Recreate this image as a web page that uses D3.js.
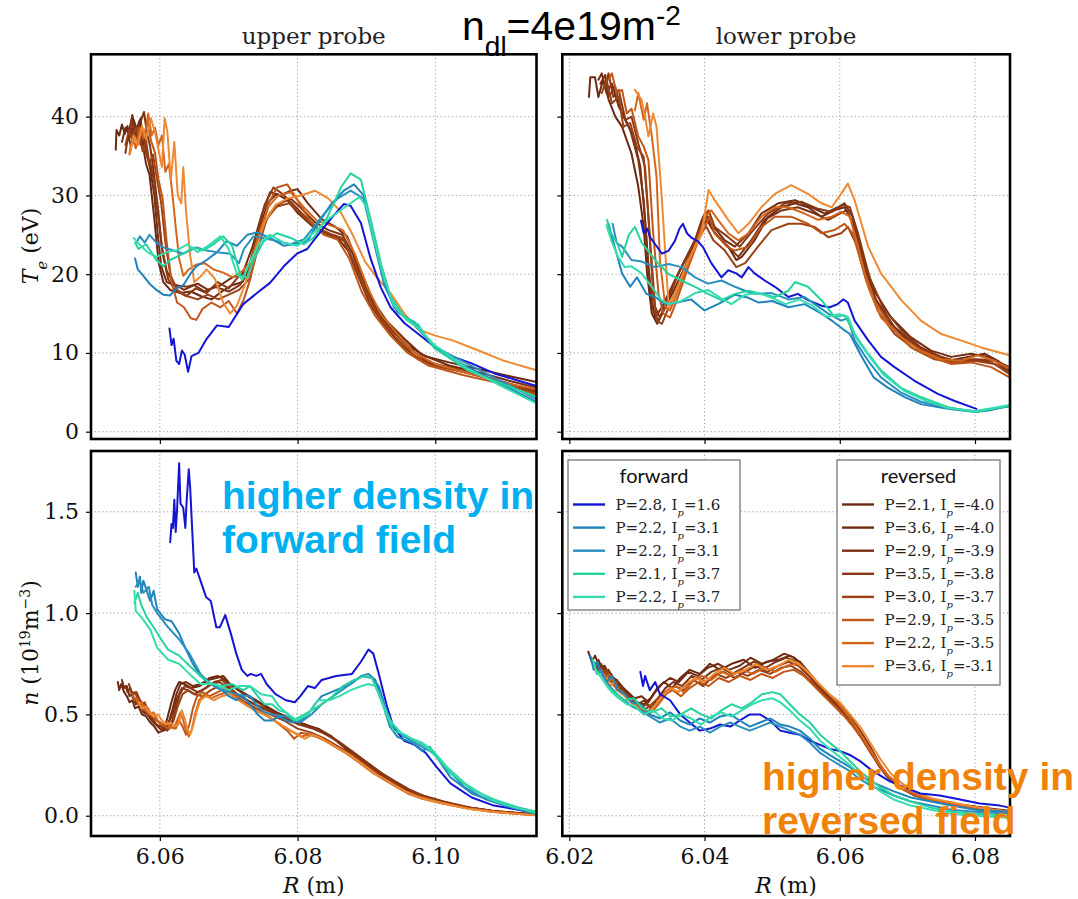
<!DOCTYPE html>
<html>
<head>
<meta charset="utf-8">
<script src="https://cdn.jsdelivr.net/npm/d3@7"></script>
<style>
  body { margin: 0; background: #fff; }
  svg { display: block; }
</style>
</head>
<body>
<svg id="fig" width="1078" height="899"></svg>
<script>
// ---- shot parameters (legend entries) ----
const forwardP  = [2.8, 2.2, 2.2, 2.1, 2.2];
const forwardIp = [1.6, 3.1, 3.1, 3.7, 3.7];
const reversedP  = [2.1, 3.6, 2.9, 3.5, 3.0, 2.9, 2.2, 3.6];
const reversedIp = [-4.0, -4.0, -3.9, -3.8, -3.7, -3.5, -3.5, -3.1];

const forwardColors  = ["#1414d4", "#1e84bb", "#2a8fbf", "#25d39e", "#34dcae"];
const reversedColors = ["#6b2912", "#722c10", "#7d3212", "#8a3814", "#9a4216", "#bf5719", "#d4651c", "#ee8a33"];

// ---- tick values ----
const rTicksUpper = [6.06, 6.08, 6.10];
const rTicksLower = [6.02, 6.04, 6.06, 6.08];
const teTicks = [0, 10, 20, 30, 40];
const nTicks  = [0.0, 0.5, 1.0, 1.5];
const probeTitles = ["upper probe", "lower probe"];

// ---- Te profiles, upper probe: [R (m), Te (eV)] ----
const teUpperFwd = [
  [[6.0614,13.1],[6.0617,11.0],[6.0620,11.8],[6.0624,9.0],[6.0628,8.6],[6.0632,10.3],[6.0636,9.8],[6.0641,7.6],[6.0646,9.6],[6.0656,10.0],[6.0668,11.8],[6.0683,13.5],[6.0700,13.3],[6.0721,16.2],[6.0741,17.6],[6.0760,18.9],[6.0780,21.0],[6.0799,22.6],[6.0814,23.2],[6.0828,24.8],[6.0848,27.0],[6.0867,28.9],[6.0877,28.7],[6.0892,26.5],[6.0906,22.0],[6.0921,18.3],[6.0935,15.8],[6.0955,13.8],[6.0974,12.5],[6.0999,10.8],[6.1023,9.6],[6.1052,8.7],[6.1086,7.4],[6.1120,6.5],[6.1147,5.8]],
  [[6.0564,22.0],[6.0568,20.6],[6.0576,19.8],[6.0585,18.8],[6.0595,18.0],[6.0605,17.4],[6.0615,17.3],[6.0624,18.2],[6.0634,18.6],[6.0644,20.0],[6.0653,21.0],[6.0668,21.8],[6.0683,22.8],[6.0697,24.2],[6.0712,23.6],[6.0727,25.0],[6.0741,25.3],[6.0760,24.6],[6.0780,23.6],[6.0799,23.9],[6.0814,24.2],[6.0828,26.2],[6.0848,28.8],[6.0867,30.6],[6.0882,31.4],[6.0896,30.0],[6.0911,24.8],[6.0926,19.0],[6.0940,15.8],[6.0955,14.6],[6.0970,13.9],[6.0999,10.6],[6.1047,8.2],[6.1096,6.0],[6.1147,3.8]],
  [[6.0566,24.0],[6.0571,24.8],[6.0578,24.0],[6.0585,25.0],[6.0595,24.0],[6.0605,23.4],[6.0620,23.0],[6.0634,22.6],[6.0653,23.4],[6.0668,23.0],[6.0683,22.8],[6.0702,22.6],[6.0715,21.4],[6.0722,23.2],[6.0736,24.8],[6.0750,24.6],[6.0770,24.2],[6.0790,23.8],[6.0809,24.4],[6.0838,27.6],[6.0858,29.6],[6.0877,30.6],[6.0896,29.6],[6.0911,24.0],[6.0926,18.6],[6.0945,15.2],[6.0965,14.0],[6.0980,12.6],[6.0999,10.8],[6.1047,8.6],[6.1096,6.4],[6.1147,4.1]],
  [[6.0564,24.0],[6.0569,23.2],[6.0580,23.8],[6.0595,21.8],[6.0605,21.0],[6.0615,21.8],[6.0634,22.6],[6.0649,23.4],[6.0663,23.0],[6.0678,23.8],[6.0692,24.8],[6.0705,23.6],[6.0717,19.8],[6.0727,19.6],[6.0736,21.8],[6.0751,24.2],[6.0770,25.2],[6.0790,24.6],[6.0809,23.8],[6.0823,24.6],[6.0843,27.2],[6.0863,31.0],[6.0877,32.8],[6.0892,32.0],[6.0906,27.0],[6.0921,21.4],[6.0935,17.2],[6.0955,14.6],[6.0975,13.6],[6.0999,10.6],[6.1047,7.8],[6.1096,6.1],[6.1147,4.4]],
  [[6.0562,24.6],[6.0570,23.8],[6.0582,22.8],[6.0595,22.2],[6.0610,22.8],[6.0624,23.0],[6.0640,23.8],[6.0655,22.8],[6.0670,23.6],[6.0688,24.8],[6.0700,23.2],[6.0712,20.0],[6.0720,19.3],[6.0730,21.4],[6.0745,24.0],[6.0760,25.0],[6.0780,24.0],[6.0800,23.6],[6.0820,25.0],[6.0845,27.0],[6.0870,28.6],[6.0890,29.8],[6.0900,28.6],[6.0912,24.0],[6.0926,19.4],[6.0940,16.0],[6.0958,14.2],[6.0975,13.2],[6.0999,11.0],[6.1047,8.0],[6.1096,5.8],[6.1147,3.6]]
];
const teUpperRev = [
  [[6.0536,35.8],[6.0537,38.3],[6.0541,37.6],[6.0545,39.0],[6.0549,37.8],[6.0553,38.8],[6.0557,37.4],[6.0562,39.6],[6.0567,38.2],[6.0572,39.8],[6.0576,36.0],[6.0580,34.0],[6.0585,32.6],[6.0592,27.0],[6.0598,21.6],[6.0605,19.0],[6.0615,18.0],[6.0630,17.6],[6.0645,17.8],[6.0660,17.2],[6.0675,16.8],[6.0690,17.8],[6.0705,18.6],[6.0720,19.0],[6.0732,21.0],[6.0745,26.0],[6.0758,29.2],[6.0770,30.2],[6.0785,29.4],[6.0800,27.8],[6.0820,26.2],[6.0840,25.2],[6.0858,24.6],[6.0875,22.8],[6.0893,19.0],[6.0913,15.4],[6.0935,13.2],[6.0960,11.0],[6.0985,9.6],[6.1020,8.8],[6.1070,7.8],[6.1110,7.0],[6.1147,6.3]],
  [[6.0545,36.8],[6.0550,38.6],[6.0555,37.8],[6.0560,40.2],[6.0565,38.0],[6.0570,39.4],[6.0575,37.0],[6.0580,35.6],[6.0586,33.4],[6.0592,30.0],[6.0597,25.0],[6.0602,21.0],[6.0610,19.0],[6.0622,18.6],[6.0640,18.4],[6.0655,18.8],[6.0670,18.0],[6.0688,18.6],[6.0705,19.6],[6.0720,20.0],[6.0735,23.6],[6.0748,27.6],[6.0760,30.4],[6.0775,30.0],[6.0790,30.6],[6.0800,30.8],[6.0815,29.0],[6.0835,27.0],[6.0855,26.0],[6.0872,24.8],[6.0890,20.8],[6.0910,16.6],[6.0930,14.0],[6.0955,11.8],[6.0980,9.8],[6.1020,8.4],[6.1070,7.4],[6.1110,6.4],[6.1147,5.6]],
  [[6.0550,35.4],[6.0554,37.6],[6.0558,36.2],[6.0563,38.8],[6.0568,37.0],[6.0573,39.6],[6.0577,40.6],[6.0581,38.0],[6.0586,36.2],[6.0591,33.0],[6.0597,28.6],[6.0603,23.4],[6.0610,20.4],[6.0620,18.8],[6.0635,18.0],[6.0650,18.6],[6.0665,17.8],[6.0680,18.4],[6.0700,17.8],[6.0716,18.6],[6.0730,20.6],[6.0745,25.0],[6.0760,27.8],[6.0775,29.0],[6.0790,29.6],[6.0805,28.4],[6.0825,26.6],[6.0845,25.6],[6.0865,25.0],[6.0880,22.6],[6.0898,18.6],[6.0918,15.0],[6.0940,12.6],[6.0965,10.4],[6.0990,8.8],[6.1030,8.0],[6.1080,6.8],[6.1120,5.8],[6.1147,5.2]],
  [[6.0555,38.0],[6.0559,39.6],[6.0563,37.2],[6.0567,38.8],[6.0572,36.4],[6.0576,38.2],[6.0581,35.0],[6.0586,34.2],[6.0592,31.6],[6.0598,27.0],[6.0604,22.6],[6.0612,19.4],[6.0622,18.0],[6.0638,17.2],[6.0652,18.2],[6.0668,17.6],[6.0684,19.0],[6.0700,18.2],[6.0715,19.8],[6.0728,20.4],[6.0740,24.6],[6.0752,28.8],[6.0765,31.0],[6.0778,30.2],[6.0792,29.0],[6.0810,27.4],[6.0830,25.8],[6.0850,25.0],[6.0868,24.2],[6.0885,20.4],[6.0905,16.2],[6.0925,13.6],[6.0950,11.0],[6.0975,9.2],[6.1010,8.2],[6.1060,7.2],[6.1110,6.0],[6.1147,5.0]],
  [[6.0550,36.4],[6.0555,38.2],[6.0560,37.0],[6.0565,38.6],[6.0570,37.8],[6.0575,35.6],[6.0580,37.0],[6.0585,34.0],[6.0590,35.2],[6.0596,32.0],[6.0602,29.0],[6.0608,24.0],[6.0615,20.0],[6.0625,18.0],[6.0640,17.2],[6.0655,16.8],[6.0670,17.4],[6.0685,16.8],[6.0700,17.4],[6.0715,18.0],[6.0730,19.4],[6.0742,23.0],[6.0755,27.0],[6.0770,28.6],[6.0788,29.0],[6.0805,27.6],[6.0825,26.0],[6.0845,25.2],[6.0865,24.6],[6.0882,21.6],[6.0900,17.6],[6.0920,14.4],[6.0942,12.0],[6.0968,9.8],[6.0995,8.4],[6.1040,7.6],[6.1090,6.4],[6.1147,4.8]],
  [[6.0556,35.4],[6.0560,37.4],[6.0565,36.0],[6.0570,38.6],[6.0576,37.2],[6.0582,39.4],[6.0587,37.0],[6.0593,35.4],[6.0598,32.0],[6.0604,29.6],[6.0610,24.0],[6.0617,19.0],[6.0625,16.4],[6.0635,15.8],[6.0645,14.4],[6.0653,14.2],[6.0662,15.6],[6.0675,16.4],[6.0688,15.8],[6.0700,16.6],[6.0712,15.0],[6.0722,16.8],[6.0732,19.6],[6.0745,24.6],[6.0758,29.0],[6.0770,31.0],[6.0785,31.4],[6.0800,29.4],[6.0818,26.8],[6.0838,25.0],[6.0858,24.4],[6.0875,22.0],[6.0893,17.8],[6.0912,14.8],[6.0935,12.2],[6.0960,10.0],[6.0990,8.4],[6.1040,7.2],[6.1090,6.2],[6.1147,4.6]],
  [[6.0556,35.2],[6.0560,37.0],[6.0566,36.2],[6.0572,38.4],[6.0578,37.4],[6.0583,40.4],[6.0588,37.6],[6.0593,38.6],[6.0598,36.4],[6.0603,37.6],[6.0608,33.0],[6.0613,34.0],[6.0618,30.4],[6.0623,26.0],[6.0628,22.0],[6.0634,19.8],[6.0642,20.6],[6.0652,21.2],[6.0665,21.4],[6.0678,20.6],[6.0692,20.2],[6.0706,19.6],[6.0720,20.4],[6.0732,21.6],[6.0745,25.4],[6.0758,28.6],[6.0772,30.0],[6.0790,30.4],[6.0808,28.6],[6.0828,26.8],[6.0848,26.2],[6.0866,25.6],[6.0884,22.4],[6.0902,18.2],[6.0922,14.8],[6.0945,12.4],[6.0970,10.0],[6.1000,8.6],[6.1050,7.4],[6.1100,6.2],[6.1147,5.4]],
  [[6.0557,35.4],[6.0562,37.6],[6.0568,36.4],[6.0574,38.8],[6.0580,37.2],[6.0587,39.8],[6.0593,38.0],[6.0598,35.8],[6.0603,33.6],[6.0607,39.8],[6.0611,38.0],[6.0616,32.0],[6.0621,36.8],[6.0626,30.0],[6.0631,29.0],[6.0634,33.6],[6.0638,28.0],[6.0644,22.4],[6.0650,19.0],[6.0658,19.6],[6.0668,20.6],[6.0680,19.4],[6.0692,16.4],[6.0702,15.0],[6.0712,16.0],[6.0724,18.8],[6.0738,22.6],[6.0752,26.6],[6.0768,28.8],[6.0785,29.6],[6.0805,30.0],[6.0825,30.6],[6.0845,29.6],[6.0862,28.0],[6.0880,25.0],[6.0898,21.6],[6.0915,19.6],[6.0935,17.6],[6.0955,15.0],[6.0975,13.0],[6.1000,12.2],[6.1025,11.6],[6.1060,10.4],[6.1100,9.0],[6.1147,7.8]]
];

// ---- Te profiles, lower probe ----
const teLowerFwd = [
  [[6.0306,26.8],[6.0310,25.2],[6.0315,25.8],[6.0320,24.6],[6.0327,23.8],[6.0337,22.6],[6.0347,23.0],[6.0356,24.2],[6.0363,25.8],[6.0368,26.4],[6.0374,25.2],[6.0381,24.6],[6.0390,24.2],[6.0398,23.4],[6.0410,21.4],[6.0425,19.6],[6.0435,20.5],[6.0447,20.1],[6.0455,19.6],[6.0465,20.9],[6.0474,20.1],[6.0489,19.2],[6.0504,18.4],[6.0524,17.1],[6.0538,17.5],[6.0553,16.7],[6.0573,16.0],[6.0585,15.8],[6.0597,16.2],[6.0605,16.8],[6.0612,16.4],[6.0622,14.1],[6.0642,11.6],[6.0661,9.5],[6.0681,8.2],[6.0710,6.5],[6.0745,4.8],[6.0770,3.9],[6.0802,2.9]],
  [[6.0258,26.4],[6.0262,25.0],[6.0270,22.6],[6.0278,20.1],[6.0290,18.4],[6.0300,19.6],[6.0314,17.5],[6.0327,17.1],[6.0342,16.2],[6.0360,16.4],[6.0380,16.8],[6.0400,15.4],[6.0420,16.2],[6.0445,17.4],[6.0465,17.0],[6.0480,16.4],[6.0500,16.6],[6.0524,15.8],[6.0548,16.2],[6.0573,15.0],[6.0590,14.0],[6.0605,13.0],[6.0615,12.4],[6.0630,9.9],[6.0650,6.9],[6.0671,5.6],[6.0696,4.4],[6.0720,3.5],[6.0760,2.9],[6.0800,2.5],[6.0820,2.7],[6.0851,3.3]],
  [[6.0264,26.4],[6.0270,24.0],[6.0278,23.5],[6.0292,21.8],[6.0307,21.6],[6.0327,20.9],[6.0347,21.3],[6.0366,20.9],[6.0386,19.6],[6.0405,18.8],[6.0425,19.2],[6.0445,18.4],[6.0460,17.9],[6.0474,17.5],[6.0499,17.6],[6.0524,16.8],[6.0548,17.1],[6.0563,16.2],[6.0583,15.0],[6.0602,14.1],[6.0612,14.4],[6.0622,11.6],[6.0642,9.0],[6.0661,6.9],[6.0690,5.0],[6.0720,3.8],[6.0760,3.0],[6.0800,2.6],[6.0851,3.2]],
  [[6.0256,26.9],[6.0259,25.6],[6.0271,23.9],[6.0278,22.2],[6.0288,25.0],[6.0297,26.0],[6.0307,24.0],[6.0327,21.8],[6.0347,20.0],[6.0366,19.2],[6.0386,18.4],[6.0405,17.5],[6.0425,16.7],[6.0445,17.5],[6.0465,17.9],[6.0484,17.5],[6.0504,17.1],[6.0524,17.9],[6.0534,19.0],[6.0553,18.4],[6.0573,16.7],[6.0592,14.6],[6.0607,14.8],[6.0622,12.4],[6.0642,9.9],[6.0661,7.8],[6.0690,5.6],[6.0720,4.4],[6.0760,3.1],[6.0800,2.5],[6.0851,3.3]],
  [[6.0255,26.2],[6.0262,24.3],[6.0272,22.2],[6.0282,20.9],[6.0292,21.0],[6.0307,20.1],[6.0322,18.4],[6.0336,16.7],[6.0347,16.2],[6.0366,16.6],[6.0386,17.6],[6.0405,18.0],[6.0425,16.9],[6.0440,16.2],[6.0460,17.4],[6.0480,17.6],[6.0500,17.0],[6.0520,16.2],[6.0540,16.8],[6.0560,16.0],[6.0580,14.6],[6.0600,14.9],[6.0612,14.6],[6.0625,11.8],[6.0645,9.4],[6.0665,7.2],[6.0695,5.2],[6.0725,4.0],[6.0760,3.0],[6.0800,2.6],[6.0851,3.4]]
];
const teLowerRev = [
  [[6.0229,42.5],[6.0231,45.0],[6.0238,45.0],[6.0243,42.5],[6.0250,44.7],[6.0258,42.2],[6.0268,40.0],[6.0278,38.7],[6.0292,35.3],[6.0302,31.1],[6.0310,26.0],[6.0315,20.1],[6.0322,15.0],[6.0330,13.7],[6.0337,15.0],[6.0352,17.5],[6.0371,20.9],[6.0386,24.3],[6.0396,26.9],[6.0405,27.3],[6.0415,25.2],[6.0435,23.5],[6.0447,21.8],[6.0455,22.2],[6.0474,24.3],[6.0494,27.3],[6.0514,28.5],[6.0534,29.0],[6.0553,28.5],[6.0573,27.3],[6.0592,28.1],[6.0607,28.5],[6.0617,26.9],[6.0632,21.8],[6.0647,17.5],[6.0671,14.1],[6.0700,11.6],[6.0730,9.9],[6.0760,9.0],[6.0790,9.5],[6.0814,9.9],[6.0834,9.0],[6.0851,7.8]],
  [[6.0243,44.7],[6.0248,45.5],[6.0255,43.0],[6.0263,44.2],[6.0273,41.3],[6.0283,39.6],[6.0295,37.5],[6.0305,33.6],[6.0312,26.9],[6.0320,17.5],[6.0327,14.5],[6.0337,15.8],[6.0356,19.2],[6.0376,22.6],[6.0391,25.2],[6.0401,27.9],[6.0410,26.4],[6.0430,24.3],[6.0445,23.5],[6.0465,25.2],[6.0484,27.7],[6.0509,29.0],[6.0534,29.4],[6.0558,28.5],[6.0578,27.7],[6.0597,28.5],[6.0607,29.0],[6.0619,27.3],[6.0634,22.2],[6.0651,17.9],[6.0676,14.5],[6.0705,12.0],[6.0735,10.3],[6.0765,9.5],[6.0794,9.9],[6.0819,9.5],[6.0851,8.2]],
  [[6.0246,44.2],[6.0253,45.3],[6.0258,42.5],[6.0268,43.8],[6.0278,40.4],[6.0290,38.3],[6.0302,34.5],[6.0310,29.4],[6.0317,20.9],[6.0324,15.4],[6.0332,14.1],[6.0342,15.8],[6.0361,20.1],[6.0381,23.5],[6.0396,26.0],[6.0403,26.9],[6.0413,25.5],[6.0430,23.9],[6.0450,22.2],[6.0469,24.3],[6.0489,26.9],[6.0514,28.1],[6.0538,28.5],[6.0563,27.7],[6.0583,26.9],[6.0600,27.7],[6.0610,28.1],[6.0622,26.0],[6.0637,20.9],[6.0654,16.7],[6.0681,13.3],[6.0710,11.2],[6.0740,9.7],[6.0770,9.0],[6.0799,9.2],[6.0824,8.8],[6.0851,7.6]],
  [[6.0253,43.8],[6.0258,45.5],[6.0265,42.5],[6.0273,43.4],[6.0283,39.6],[6.0292,40.0],[6.0302,36.6],[6.0312,33.6],[6.0320,23.5],[6.0327,15.8],[6.0334,14.5],[6.0344,16.7],[6.0366,20.9],[6.0386,24.3],[6.0398,27.3],[6.0406,28.1],[6.0415,26.0],[6.0435,24.7],[6.0452,23.5],[6.0472,25.6],[6.0494,27.7],[6.0519,29.0],[6.0543,29.2],[6.0568,28.3],[6.0588,27.9],[6.0605,28.8],[6.0615,28.5],[6.0627,25.2],[6.0644,19.6],[6.0664,15.8],[6.0691,12.9],[6.0720,10.7],[6.0750,9.5],[6.0780,8.8],[6.0804,9.2],[6.0829,9.0],[6.0851,7.6]],
  [[6.0248,43.0],[6.0255,44.7],[6.0263,41.7],[6.0273,42.5],[6.0280,38.7],[6.0290,39.2],[6.0300,36.2],[6.0310,34.9],[6.0317,27.3],[6.0324,17.5],[6.0330,14.1],[6.0337,13.7],[6.0347,15.8],[6.0366,19.6],[6.0383,23.0],[6.0396,25.5],[6.0403,26.0],[6.0413,24.3],[6.0430,23.0],[6.0447,20.9],[6.0460,21.4],[6.0479,23.5],[6.0499,25.6],[6.0524,26.4],[6.0543,26.4],[6.0563,26.0],[6.0583,24.7],[6.0602,25.2],[6.0612,26.0],[6.0624,23.9],[6.0639,19.2],[6.0656,15.4],[6.0681,12.4],[6.0710,10.5],[6.0740,9.2],[6.0770,8.8],[6.0799,9.0],[6.0829,8.6],[6.0851,7.3]],
  [[6.0258,44.7],[6.0263,45.5],[6.0270,43.0],[6.0278,43.4],[6.0285,40.4],[6.0292,41.0],[6.0302,37.5],[6.0310,36.2],[6.0317,34.5],[6.0324,25.2],[6.0332,17.5],[6.0339,15.0],[6.0349,14.5],[6.0359,16.7],[6.0376,20.9],[6.0391,24.3],[6.0401,26.0],[6.0407,27.3],[6.0415,25.2],[6.0433,23.5],[6.0445,23.0],[6.0465,23.5],[6.0484,26.0],[6.0504,27.3],[6.0528,27.3],[6.0553,26.4],[6.0573,25.2],[6.0592,25.6],[6.0607,26.4],[6.0619,25.2],[6.0634,20.9],[6.0651,16.7],[6.0676,13.3],[6.0705,10.7],[6.0735,9.5],[6.0765,8.6],[6.0794,8.8],[6.0824,8.2],[6.0851,6.9]],
  [[6.0297,40.8],[6.0302,43.0],[6.0310,39.6],[6.0315,41.7],[6.0322,37.5],[6.0329,32.4],[6.0334,21.8],[6.0342,15.8],[6.0349,15.4],[6.0359,17.5],[6.0376,21.3],[6.0391,24.7],[6.0401,27.3],[6.0410,28.1],[6.0420,26.9],[6.0435,25.2],[6.0450,24.3],[6.0465,25.2],[6.0484,27.3],[6.0504,28.5],[6.0524,28.5],[6.0548,27.7],[6.0568,26.9],[6.0588,27.3],[6.0602,27.9],[6.0615,27.3],[6.0627,23.5],[6.0642,18.4],[6.0661,14.5],[6.0691,12.0],[6.0720,10.3],[6.0750,9.2],[6.0780,9.0],[6.0804,9.7],[6.0829,9.0],[6.0851,8.0]],
  [[6.0297,43.4],[6.0307,42.1],[6.0312,40.0],[6.0317,37.5],[6.0324,40.4],[6.0329,38.7],[6.0337,29.4],[6.0347,15.8],[6.0356,17.5],[6.0376,21.8],[6.0396,25.2],[6.0406,30.7],[6.0415,29.4],[6.0435,26.9],[6.0450,25.2],[6.0465,26.4],[6.0484,28.5],[6.0504,30.2],[6.0528,31.3],[6.0553,30.2],[6.0573,29.0],[6.0588,28.5],[6.0602,30.2],[6.0612,31.5],[6.0622,29.4],[6.0642,23.5],[6.0661,20.1],[6.0691,16.7],[6.0720,14.1],[6.0750,12.4],[6.0779,11.6],[6.0809,10.7],[6.0851,9.7]]
];

// ---- density profiles, upper probe: [R (m), n (1e19 m^-3)] ----
const nUpperFwd = [
  [[6.0615,1.35],[6.0617,1.44],[6.0619,1.42],[6.0621,1.56],[6.0623,1.40],[6.0625,1.51],[6.0628,1.74],[6.0630,1.54],[6.0634,1.52],[6.0637,1.42],[6.0639,1.56],[6.0642,1.71],[6.0644,1.62],[6.0647,1.41],[6.0650,1.20],[6.0653,1.22],[6.0659,1.16],[6.0667,1.08],[6.0674,1.06],[6.0682,0.93],[6.0687,0.93],[6.0695,0.99],[6.0703,0.90],[6.0711,0.80],[6.0719,0.72],[6.0727,0.69],[6.0732,0.70],[6.0740,0.69],[6.0747,0.70],[6.0755,0.65],[6.0768,0.60],[6.0783,0.57],[6.0796,0.56],[6.0804,0.59],[6.0815,0.64],[6.0825,0.63],[6.0835,0.67],[6.0856,0.69],[6.0879,0.70],[6.0892,0.76],[6.0903,0.82],[6.0910,0.80],[6.0918,0.70],[6.0929,0.55],[6.0939,0.44],[6.0955,0.37],[6.0970,0.35],[6.0986,0.31],[6.1002,0.24],[6.1022,0.16],[6.1053,0.09],[6.1085,0.05],[6.1121,0.03],[6.1147,0.01]],
  [[6.0565,1.20],[6.0568,1.13],[6.0571,1.18],[6.0573,1.10],[6.0576,1.16],[6.0581,1.11],[6.0586,1.06],[6.0591,1.11],[6.0596,1.02],[6.0607,0.97],[6.0617,0.96],[6.0628,0.90],[6.0638,0.82],[6.0648,0.75],[6.0659,0.69],[6.0669,0.66],[6.0679,0.64],[6.0690,0.62],[6.0700,0.59],[6.0711,0.57],[6.0721,0.59],[6.0731,0.55],[6.0742,0.50],[6.0752,0.47],[6.0763,0.47],[6.0773,0.49],[6.0783,0.47],[6.0794,0.46],[6.0804,0.47],[6.0815,0.50],[6.0825,0.55],[6.0835,0.59],[6.0856,0.62],[6.0877,0.65],[6.0893,0.69],[6.0903,0.70],[6.0913,0.67],[6.0924,0.55],[6.0934,0.44],[6.0945,0.39],[6.0966,0.36],[6.0981,0.32],[6.0992,0.34],[6.1002,0.29],[6.1022,0.19],[6.1053,0.11],[6.1085,0.07],[6.1121,0.04],[6.1147,0.02]],
  [[6.0565,1.13],[6.0571,1.16],[6.0576,1.10],[6.0584,1.13],[6.0589,1.04],[6.0596,1.00],[6.0612,0.93],[6.0628,0.87],[6.0643,0.80],[6.0659,0.70],[6.0674,0.65],[6.0690,0.62],[6.0711,0.60],[6.0731,0.59],[6.0742,0.54],[6.0752,0.51],[6.0763,0.50],[6.0783,0.49],[6.0804,0.46],[6.0820,0.50],[6.0835,0.55],[6.0856,0.60],[6.0877,0.65],[6.0893,0.69],[6.0908,0.68],[6.0918,0.64],[6.0929,0.52],[6.0939,0.44],[6.0955,0.39],[6.0971,0.36],[6.0986,0.33],[6.0997,0.31],[6.1017,0.23],[6.1043,0.14],[6.1074,0.08],[6.1111,0.04],[6.1147,0.01]],
  [[6.0563,1.05],[6.0568,1.10],[6.0573,1.04],[6.0581,0.98],[6.0591,0.93],[6.0602,0.87],[6.0612,0.82],[6.0628,0.79],[6.0643,0.74],[6.0659,0.69],[6.0674,0.65],[6.0690,0.64],[6.0705,0.65],[6.0721,0.62],[6.0731,0.64],[6.0742,0.59],[6.0752,0.55],[6.0763,0.55],[6.0773,0.52],[6.0783,0.51],[6.0794,0.47],[6.0810,0.50],[6.0825,0.53],[6.0835,0.55],[6.0851,0.59],[6.0866,0.64],[6.0882,0.67],[6.0898,0.69],[6.0908,0.68],[6.0918,0.60],[6.0929,0.50],[6.0939,0.42],[6.0955,0.40],[6.0971,0.37],[6.0986,0.34],[6.1002,0.29],[6.1022,0.21],[6.1053,0.13],[6.1085,0.08],[6.1121,0.04],[6.1147,0.01]],
  [[6.0563,1.11],[6.0565,1.01],[6.0573,0.98],[6.0586,0.92],[6.0596,0.83],[6.0612,0.77],[6.0628,0.75],[6.0643,0.70],[6.0659,0.65],[6.0679,0.65],[6.0700,0.62],[6.0716,0.64],[6.0731,0.64],[6.0747,0.60],[6.0763,0.59],[6.0773,0.54],[6.0783,0.51],[6.0799,0.47],[6.0815,0.50],[6.0830,0.57],[6.0846,0.57],[6.0861,0.59],[6.0877,0.62],[6.0893,0.64],[6.0903,0.65],[6.0913,0.64],[6.0924,0.55],[6.0934,0.47],[6.0950,0.41],[6.0966,0.38],[6.0981,0.36],[6.0997,0.32],[6.1017,0.24],[6.1043,0.16],[6.1080,0.08],[6.1116,0.04],[6.1147,0.02]]
];
const nUpperRev = [
  [[6.0539,0.66],[6.0541,0.62],[6.0544,0.65],[6.0548,0.61],[6.0552,0.59],[6.0556,0.56],[6.0560,0.57],[6.0564,0.53],[6.0569,0.54],[6.0574,0.50],[6.0580,0.49],[6.0586,0.46],[6.0592,0.44],[6.0598,0.41],[6.0604,0.42],[6.0610,0.47],[6.0616,0.55],[6.0622,0.62],[6.0628,0.66],[6.0636,0.65],[6.0646,0.63],[6.0658,0.64],[6.0670,0.67],[6.0682,0.68],[6.0692,0.69],[6.0702,0.65],[6.0715,0.62],[6.0730,0.59],[6.0750,0.55],[6.0770,0.51],[6.0790,0.48],[6.0810,0.45],[6.0830,0.43],[6.0850,0.39],[6.0870,0.33],[6.0890,0.28],[6.0910,0.23],[6.0930,0.18],[6.0950,0.14],[6.0970,0.11],[6.1000,0.08],[6.1040,0.045],[6.1080,0.025],[6.1120,0.012],[6.1147,0.005]],
  [[6.0545,0.67],[6.0548,0.63],[6.0552,0.64],[6.0556,0.59],[6.0560,0.60],[6.0565,0.55],[6.0570,0.56],[6.0576,0.51],[6.0582,0.50],[6.0588,0.47],[6.0594,0.45],[6.0600,0.43],[6.0606,0.42],[6.0612,0.45],[6.0618,0.52],[6.0624,0.60],[6.0630,0.65],[6.0638,0.66],[6.0648,0.64],[6.0660,0.65],[6.0672,0.68],[6.0684,0.69],[6.0694,0.67],[6.0705,0.64],[6.0718,0.61],[6.0732,0.58],[6.0752,0.54],[6.0772,0.50],[6.0792,0.47],[6.0812,0.45],[6.0832,0.42],[6.0852,0.38],[6.0872,0.33],[6.0892,0.28],[6.0912,0.23],[6.0932,0.18],[6.0952,0.14],[6.0972,0.11],[6.1002,0.075],[6.1042,0.045],[6.1082,0.025],[6.1147,0.006]],
  [[6.0550,0.64],[6.0553,0.61],[6.0557,0.63],[6.0561,0.58],[6.0566,0.56],[6.0571,0.57],[6.0577,0.52],[6.0583,0.50],[6.0589,0.48],[6.0595,0.45],[6.0601,0.44],[6.0607,0.43],[6.0613,0.46],[6.0619,0.51],[6.0625,0.58],[6.0632,0.63],[6.0640,0.62],[6.0650,0.60],[6.0662,0.62],[6.0674,0.65],[6.0686,0.66],[6.0696,0.64],[6.0708,0.61],[6.0722,0.58],[6.0738,0.55],[6.0758,0.52],[6.0778,0.49],[6.0798,0.46],[6.0818,0.44],[6.0838,0.41],[6.0858,0.37],[6.0878,0.32],[6.0898,0.27],[6.0918,0.22],[6.0938,0.17],[6.0958,0.13],[6.0978,0.10],[6.1008,0.07],[6.1048,0.04],[6.1088,0.02],[6.1147,0.005]],
  [[6.0555,0.65],[6.0558,0.62],[6.0562,0.60],[6.0566,0.61],[6.0571,0.57],[6.0576,0.55],[6.0581,0.53],[6.0587,0.50],[6.0593,0.48],[6.0599,0.46],[6.0605,0.43],[6.0611,0.42],[6.0617,0.46],[6.0623,0.53],[6.0629,0.60],[6.0636,0.64],[6.0644,0.63],[6.0655,0.61],[6.0667,0.63],[6.0679,0.66],[6.0690,0.67],[6.0700,0.64],[6.0712,0.60],[6.0726,0.57],[6.0742,0.54],[6.0762,0.51],[6.0782,0.48],[6.0802,0.45],[6.0822,0.43],[6.0842,0.40],[6.0862,0.36],[6.0882,0.31],[6.0902,0.26],[6.0922,0.21],[6.0942,0.17],[6.0962,0.13],[6.0982,0.10],[6.1012,0.07],[6.1052,0.04],[6.1092,0.02],[6.1147,0.004]],
  [[6.0557,0.62],[6.0560,0.60],[6.0564,0.61],[6.0568,0.57],[6.0573,0.55],[6.0578,0.56],[6.0584,0.51],[6.0590,0.49],[6.0596,0.47],[6.0602,0.45],[6.0608,0.44],[6.0614,0.43],[6.0620,0.47],[6.0626,0.54],[6.0633,0.60],[6.0641,0.62],[6.0650,0.60],[6.0662,0.59],[6.0674,0.62],[6.0686,0.64],[6.0698,0.62],[6.0710,0.59],[6.0724,0.56],[6.0740,0.53],[6.0760,0.50],[6.0780,0.47],[6.0800,0.43],[6.0820,0.41],[6.0840,0.38],[6.0860,0.34],[6.0880,0.30],[6.0900,0.25],[6.0920,0.20],[6.0940,0.16],[6.0960,0.12],[6.0980,0.095],[6.1010,0.065],[6.1050,0.04],[6.1090,0.02],[6.1147,0.004]],
  [[6.0560,0.60],[6.0563,0.57],[6.0567,0.58],[6.0572,0.54],[6.0577,0.52],[6.0583,0.53],[6.0589,0.49],[6.0595,0.47],[6.0601,0.46],[6.0607,0.44],[6.0613,0.43],[6.0618,0.45],[6.0623,0.43],[6.0628,0.47],[6.0633,0.44],[6.0638,0.40],[6.0643,0.45],[6.0648,0.53],[6.0654,0.59],[6.0662,0.61],[6.0672,0.59],[6.0684,0.61],[6.0696,0.63],[6.0708,0.60],[6.0720,0.56],[6.0735,0.53],[6.0752,0.50],[6.0770,0.46],[6.0785,0.42],[6.0795,0.38],[6.0805,0.41],[6.0820,0.40],[6.0840,0.37],[6.0860,0.33],[6.0880,0.29],[6.0900,0.24],[6.0920,0.19],[6.0940,0.15],[6.0960,0.11],[6.0980,0.085],[6.1010,0.06],[6.1050,0.035],[6.1090,0.018],[6.1147,0.003]],
  [[6.0565,0.58],[6.0569,0.55],[6.0574,0.56],[6.0579,0.52],[6.0585,0.50],[6.0591,0.51],[6.0597,0.47],[6.0603,0.45],[6.0609,0.46],[6.0615,0.44],[6.0620,0.43],[6.0625,0.47],[6.0630,0.51],[6.0634,0.47],[6.0638,0.42],[6.0642,0.39],[6.0646,0.42],[6.0651,0.50],[6.0657,0.57],[6.0665,0.60],[6.0675,0.58],[6.0688,0.60],[6.0700,0.61],[6.0712,0.58],[6.0725,0.55],[6.0740,0.52],[6.0758,0.49],[6.0775,0.45],[6.0790,0.42],[6.0805,0.39],[6.0815,0.40],[6.0830,0.39],[6.0850,0.35],[6.0870,0.31],[6.0890,0.26],[6.0910,0.21],[6.0930,0.17],[6.0950,0.13],[6.0970,0.10],[6.1000,0.07],[6.1040,0.04],[6.1080,0.02],[6.1147,0.002]],
  [[6.0570,0.56],[6.0574,0.53],[6.0579,0.54],[6.0585,0.51],[6.0591,0.49],[6.0597,0.50],[6.0603,0.47],[6.0609,0.45],[6.0615,0.46],[6.0621,0.44],[6.0627,0.45],[6.0632,0.52],[6.0636,0.48],[6.0640,0.43],[6.0644,0.40],[6.0648,0.44],[6.0653,0.51],[6.0659,0.57],[6.0667,0.59],[6.0678,0.57],[6.0690,0.59],[6.0702,0.60],[6.0714,0.57],[6.0728,0.54],[6.0744,0.51],[6.0762,0.48],[6.0780,0.44],[6.0795,0.41],[6.0810,0.38],[6.0822,0.40],[6.0836,0.38],[6.0856,0.34],[6.0876,0.30],[6.0896,0.25],[6.0916,0.20],[6.0936,0.16],[6.0956,0.12],[6.0976,0.09],[6.1006,0.065],[6.1046,0.035],[6.1086,0.018],[6.1147,0.002]]
];

// ---- density profiles, lower probe ----
const nLowerFwd = [
  [[6.0305,0.71],[6.0309,0.64],[6.0312,0.69],[6.0319,0.62],[6.0327,0.66],[6.0334,0.60],[6.0349,0.57],[6.0364,0.50],[6.0378,0.46],[6.0393,0.42],[6.0408,0.43],[6.0423,0.45],[6.0438,0.44],[6.0452,0.47],[6.0467,0.50],[6.0482,0.50],[6.0497,0.47],[6.0512,0.42],[6.0526,0.41],[6.0541,0.40],[6.0556,0.37],[6.0571,0.35],[6.0585,0.33],[6.0600,0.32],[6.0615,0.30],[6.0630,0.27],[6.0645,0.23],[6.0659,0.20],[6.0674,0.17],[6.0689,0.15],[6.0719,0.11],[6.0748,0.10],[6.0778,0.08],[6.0807,0.06],[6.0837,0.05],[6.0851,0.04]],
  [[6.0231,0.79],[6.0236,0.72],[6.0241,0.76],[6.0248,0.70],[6.0255,0.66],[6.0263,0.69],[6.0272,0.62],[6.0282,0.60],[6.0292,0.56],[6.0305,0.55],[6.0319,0.50],[6.0334,0.48],[6.0349,0.51],[6.0364,0.47],[6.0378,0.45],[6.0393,0.48],[6.0408,0.46],[6.0423,0.49],[6.0438,0.50],[6.0452,0.47],[6.0467,0.44],[6.0482,0.46],[6.0497,0.48],[6.0512,0.45],[6.0526,0.44],[6.0541,0.42],[6.0556,0.38],[6.0571,0.33],[6.0585,0.30],[6.0600,0.27],[6.0615,0.24],[6.0630,0.20],[6.0645,0.17],[6.0659,0.15],[6.0680,0.12],[6.0705,0.09],[6.0735,0.07],[6.0765,0.05],[6.0800,0.03],[6.0851,0.02]],
  [[6.0236,0.74],[6.0241,0.70],[6.0247,0.72],[6.0254,0.66],[6.0262,0.63],[6.0271,0.60],[6.0281,0.57],[6.0292,0.54],[6.0305,0.52],[6.0319,0.49],[6.0334,0.46],[6.0349,0.48],[6.0364,0.44],[6.0378,0.42],[6.0393,0.44],[6.0408,0.41],[6.0423,0.44],[6.0438,0.46],[6.0452,0.44],[6.0467,0.42],[6.0482,0.44],[6.0497,0.46],[6.0512,0.44],[6.0526,0.42],[6.0541,0.40],[6.0556,0.36],[6.0571,0.31],[6.0585,0.28],[6.0600,0.25],[6.0615,0.22],[6.0630,0.18],[6.0645,0.15],[6.0659,0.13],[6.0680,0.10],[6.0705,0.07],[6.0735,0.05],[6.0765,0.03],[6.0800,0.02],[6.0851,0.01]],
  [[6.0240,0.72],[6.0248,0.68],[6.0258,0.63],[6.0270,0.60],[6.0282,0.57],[6.0295,0.58],[6.0308,0.53],[6.0322,0.51],[6.0336,0.53],[6.0350,0.49],[6.0365,0.50],[6.0380,0.53],[6.0395,0.50],[6.0410,0.48],[6.0425,0.52],[6.0440,0.55],[6.0455,0.53],[6.0470,0.56],[6.0485,0.60],[6.0500,0.61],[6.0512,0.60],[6.0526,0.55],[6.0541,0.50],[6.0556,0.46],[6.0571,0.40],[6.0585,0.36],[6.0600,0.32],[6.0615,0.27],[6.0630,0.22],[6.0645,0.18],[6.0660,0.14],[6.0680,0.10],[6.0705,0.07],[6.0735,0.04],[6.0765,0.02],[6.0800,0.01],[6.0851,0.0]],
  [[6.0235,0.77],[6.0240,0.71],[6.0246,0.69],[6.0254,0.65],[6.0263,0.61],[6.0273,0.58],[6.0285,0.55],[6.0297,0.54],[6.0310,0.50],[6.0324,0.52],[6.0338,0.48],[6.0352,0.47],[6.0366,0.50],[6.0380,0.48],[6.0395,0.45],[6.0410,0.49],[6.0425,0.51],[6.0440,0.49],[6.0455,0.52],[6.0470,0.55],[6.0485,0.57],[6.0500,0.58],[6.0512,0.56],[6.0526,0.52],[6.0541,0.47],[6.0556,0.43],[6.0571,0.37],[6.0585,0.33],[6.0600,0.29],[6.0615,0.25],[6.0630,0.20],[6.0645,0.16],[6.0660,0.12],[6.0680,0.08],[6.0705,0.05],[6.0735,0.03],[6.0765,0.01],[6.0800,0.0],[6.0851,-0.01]]
];
const nLowerRev = [
  [[6.0228,0.81],[6.0233,0.76],[6.0238,0.79],[6.0245,0.73],[6.0252,0.74],[6.0260,0.69],[6.0270,0.67],[6.0280,0.63],[6.0290,0.60],[6.0300,0.56],[6.0310,0.55],[6.0320,0.58],[6.0330,0.63],[6.0340,0.66],[6.0352,0.63],[6.0364,0.68],[6.0378,0.72],[6.0393,0.70],[6.0408,0.75],[6.0423,0.72],[6.0440,0.75],[6.0458,0.77],[6.0475,0.73],[6.0492,0.76],[6.0510,0.77],[6.0526,0.79],[6.0541,0.76],[6.0556,0.70],[6.0571,0.64],[6.0586,0.59],[6.0600,0.55],[6.0615,0.49],[6.0630,0.42],[6.0645,0.34],[6.0660,0.25],[6.0675,0.18],[6.0695,0.13],[6.0720,0.09],[6.0750,0.07],[6.0780,0.05],[6.0810,0.04],[6.0851,0.02]],
  [[6.0232,0.78],[6.0237,0.74],[6.0243,0.77],[6.0250,0.71],[6.0258,0.72],[6.0267,0.66],[6.0277,0.64],[6.0287,0.60],[6.0297,0.58],[6.0307,0.59],[6.0317,0.56],[6.0327,0.61],[6.0337,0.65],[6.0349,0.68],[6.0362,0.66],[6.0376,0.71],[6.0390,0.69],[6.0405,0.73],[6.0420,0.75],[6.0436,0.72],[6.0452,0.74],[6.0468,0.78],[6.0485,0.75],[6.0502,0.77],[6.0518,0.80],[6.0533,0.78],[6.0548,0.73],[6.0563,0.67],[6.0578,0.62],[6.0593,0.57],[6.0608,0.52],[6.0623,0.45],[6.0638,0.37],[6.0653,0.28],[6.0668,0.20],[6.0685,0.15],[6.0705,0.11],[6.0730,0.08],[6.0760,0.06],[6.0790,0.05],[6.0820,0.035],[6.0851,0.02]],
  [[6.0236,0.76],[6.0241,0.72],[6.0247,0.75],[6.0254,0.69],[6.0262,0.70],[6.0271,0.64],[6.0281,0.62],[6.0291,0.58],[6.0301,0.55],[6.0311,0.57],[6.0321,0.53],[6.0331,0.58],[6.0342,0.63],[6.0354,0.66],[6.0367,0.64],[6.0381,0.69],[6.0395,0.67],[6.0410,0.71],[6.0425,0.73],[6.0441,0.70],[6.0457,0.73],[6.0473,0.76],[6.0490,0.73],[6.0506,0.76],[6.0521,0.78],[6.0536,0.76],[6.0551,0.71],[6.0566,0.65],[6.0581,0.60],[6.0596,0.55],[6.0611,0.50],[6.0626,0.43],[6.0641,0.35],[6.0656,0.26],[6.0671,0.19],[6.0690,0.14],[6.0710,0.10],[6.0735,0.08],[6.0765,0.06],[6.0795,0.045],[6.0825,0.035],[6.0851,0.025]],
  [[6.0240,0.75],[6.0245,0.71],[6.0251,0.73],[6.0258,0.67],[6.0266,0.68],[6.0275,0.62],[6.0285,0.60],[6.0295,0.57],[6.0305,0.53],[6.0314,0.55],[6.0324,0.52],[6.0334,0.56],[6.0345,0.61],[6.0357,0.64],[6.0370,0.62],[6.0384,0.67],[6.0398,0.64],[6.0413,0.69],[6.0428,0.71],[6.0444,0.68],[6.0460,0.71],[6.0476,0.74],[6.0493,0.71],[6.0509,0.74],[6.0524,0.76],[6.0539,0.74],[6.0554,0.69],[6.0569,0.63],[6.0584,0.58],[6.0599,0.53],[6.0614,0.48],[6.0629,0.40],[6.0644,0.32],[6.0659,0.24],[6.0674,0.18],[6.0693,0.13],[6.0713,0.10],[6.0738,0.075],[6.0768,0.055],[6.0798,0.045],[6.0828,0.03],[6.0851,0.02]],
  [[6.0244,0.74],[6.0249,0.70],[6.0255,0.72],[6.0262,0.66],[6.0270,0.64],[6.0279,0.61],[6.0289,0.58],[6.0299,0.55],[6.0309,0.52],[6.0318,0.54],[6.0328,0.57],[6.0338,0.60],[6.0349,0.63],[6.0361,0.61],[6.0374,0.65],[6.0388,0.68],[6.0402,0.66],[6.0417,0.70],[6.0432,0.68],[6.0448,0.71],[6.0464,0.69],[6.0480,0.72],[6.0497,0.70],[6.0513,0.73],[6.0528,0.74],[6.0543,0.71],[6.0558,0.66],[6.0573,0.61],[6.0588,0.56],[6.0603,0.51],[6.0618,0.45],[6.0633,0.38],[6.0648,0.30],[6.0663,0.23],[6.0678,0.17],[6.0697,0.13],[6.0717,0.095],[6.0742,0.07],[6.0772,0.055],[6.0802,0.04],[6.0851,0.02]],
  [[6.0248,0.72],[6.0253,0.68],[6.0259,0.70],[6.0266,0.64],[6.0274,0.62],[6.0283,0.59],[6.0293,0.56],[6.0303,0.54],[6.0313,0.51],[6.0322,0.53],[6.0332,0.56],[6.0342,0.60],[6.0353,0.62],[6.0365,0.59],[6.0378,0.63],[6.0392,0.66],[6.0406,0.64],[6.0421,0.68],[6.0436,0.66],[6.0452,0.69],[6.0468,0.67],[6.0484,0.70],[6.0501,0.68],[6.0517,0.71],[6.0532,0.72],[6.0547,0.69],[6.0562,0.64],[6.0577,0.59],[6.0592,0.54],[6.0607,0.49],[6.0622,0.43],[6.0637,0.36],[6.0652,0.28],[6.0667,0.21],[6.0682,0.16],[6.0700,0.12],[6.0720,0.09],[6.0745,0.07],[6.0775,0.05],[6.0805,0.035],[6.0851,0.015]],
  [[6.0252,0.70],[6.0257,0.66],[6.0263,0.68],[6.0270,0.62],[6.0278,0.61],[6.0287,0.57],[6.0297,0.55],[6.0307,0.52],[6.0317,0.50],[6.0326,0.53],[6.0336,0.57],[6.0346,0.61],[6.0357,0.64],[6.0369,0.61],[6.0382,0.66],[6.0396,0.69],[6.0410,0.67],[6.0425,0.71],[6.0440,0.69],[6.0456,0.72],[6.0472,0.70],[6.0488,0.73],[6.0505,0.71],[6.0521,0.74],[6.0536,0.75],[6.0551,0.72],[6.0566,0.66],[6.0581,0.61],[6.0596,0.56],[6.0611,0.50],[6.0626,0.43],[6.0641,0.35],[6.0656,0.27],[6.0671,0.20],[6.0688,0.15],[6.0708,0.11],[6.0733,0.08],[6.0763,0.06],[6.0793,0.045],[6.0823,0.03],[6.0851,0.02]],
  [[6.0256,0.68],[6.0261,0.64],[6.0267,0.66],[6.0274,0.61],[6.0282,0.59],[6.0291,0.56],[6.0301,0.53],[6.0311,0.50],[6.0321,0.52],[6.0330,0.56],[6.0340,0.60],[6.0350,0.63],[6.0361,0.61],[6.0373,0.65],[6.0386,0.68],[6.0400,0.66],[6.0414,0.70],[6.0429,0.73],[6.0444,0.70],[6.0460,0.72],[6.0476,0.75],[6.0492,0.72],[6.0509,0.74],[6.0525,0.77],[6.0540,0.75],[6.0555,0.70],[6.0570,0.65],[6.0585,0.60],[6.0600,0.56],[6.0615,0.50],[6.0630,0.44],[6.0645,0.36],[6.0660,0.28],[6.0675,0.21],[6.0692,0.16],[6.0712,0.115],[6.0737,0.085],[6.0767,0.065],[6.0797,0.045],[6.0827,0.03],[6.0851,0.02]]
];

// ---------------------------------------------------------------
const svg = d3.select("#fig");
const serif = "'DejaVu Serif', serif";

// panel boxes in page pixels
const panels = [
  { box: [91, 54.3, 536.5, 439], rDom: [6.0500, 6.1147], vDom: [-0.927, 47.92],
    rTicks: rTicksUpper, vTicks: teTicks, fwd: teUpperFwd, rev: teUpperRev,
    yLabels: true, xLabels: false, vFmt: d3.format("d") },
  { box: [562.3, 54.3, 1010, 439], rDom: [6.01896, 6.08518], vDom: [-0.927, 47.92],
    rTicks: rTicksLower, vTicks: teTicks, fwd: teLowerFwd, rev: teLowerRev,
    yLabels: false, xLabels: false, vFmt: d3.format("d") },
  { box: [91, 451, 536.5, 836], rDom: [6.0500, 6.1147], vDom: [-0.1, 1.8],
    rTicks: rTicksUpper, vTicks: nTicks, fwd: nUpperFwd, rev: nUpperRev,
    yLabels: true, xLabels: true, vFmt: d3.format(".1f") },
  { box: [562.3, 451, 1010, 836], rDom: [6.01896, 6.08518], vDom: [-0.1, 1.8],
    rTicks: rTicksLower, vTicks: nTicks, fwd: nLowerFwd, rev: nLowerRev,
    yLabels: false, xLabels: true, vFmt: d3.format(".1f") }
];

const defs = svg.append("defs");

panels.forEach((p, i) => {
  const [x0, y0, x1, y1] = p.box;
  const xs = d3.scaleLinear().domain(p.rDom).range([x0, x1]);
  const ys = d3.scaleLinear().domain(p.vDom).range([y1, y0]);
  const g = svg.append("g");

  defs.append("clipPath").attr("id", "clip" + i)
    .append("rect").attr("x", x0).attr("y", y0).attr("width", x1 - x0).attr("height", y1 - y0);

  // dotted grid
  const grid = g.append("g").attr("stroke", "#9c9c9c").attr("stroke-width", 1)
    .attr("stroke-dasharray", "1.2,2.6");
  grid.selectAll("line.gx").data(p.rTicks).join("line")
    .attr("x1", d => xs(d)).attr("x2", d => xs(d)).attr("y1", y0).attr("y2", y1);
  grid.selectAll("line.gy").data(p.vTicks).join("line")
    .attr("x1", x0).attr("x2", x1).attr("y1", d => ys(d)).attr("y2", d => ys(d));

  // profiles
  const line = d3.line().x(d => xs(d[0])).y(d => ys(d[1]));
  const curves = g.append("g").attr("clip-path", `url(#clip${i})`)
    .attr("fill", "none").attr("stroke-width", 2)
    .attr("stroke-linejoin", "round").attr("stroke-linecap", "round");
  curves.selectAll("path.rev").data(p.rev).join("path")
    .attr("d", line).attr("stroke", (d, k) => reversedColors[k]);
  curves.selectAll("path.fwd").data(p.fwd).join("path")
    .attr("d", line).attr("stroke", (d, k) => forwardColors[k]);

  // axes with outward ticks
  const xAxis = d3.axisBottom(xs).tickValues(p.rTicks).tickSize(5).tickPadding(7)
    .tickFormat(p.xLabels ? d3.format(".2f") : () => "");
  const yAxis = d3.axisLeft(ys).tickValues(p.vTicks).tickSize(5).tickPadding(7)
    .tickFormat(p.yLabels ? p.vFmt : () => "");
  const ax = g.append("g").attr("transform", `translate(0,${y1})`).call(xAxis);
  const ay = g.append("g").attr("transform", `translate(${x0},0)`).call(yAxis);
  [ax, ay].forEach(a => {
    a.select(".domain").remove();
    a.selectAll(".tick line").attr("stroke", "#000").attr("stroke-width", 1.2);
    a.selectAll(".tick text").attr("fill", "#111").style("font-family", serif).style("font-size", "22px");
  });

  // frame
  g.append("rect").attr("x", x0).attr("y", y0).attr("width", x1 - x0).attr("height", y1 - y0)
    .attr("fill", "none").attr("stroke", "#000").attr("stroke-width", 2.6);
});

// column titles
[[313.7, probeTitles[0]], [786, probeTitles[1]]].forEach(([x, t]) => {
  svg.append("text").attr("x", x).attr("y", 44).attr("text-anchor", "middle")
    .style("font-family", serif).style("font-size", "23px").attr("fill", "#222").text(t);
});

// x-axis labels
[313.7, 786].forEach(x => {
  const t = svg.append("text").attr("x", x).attr("y", 893).attr("text-anchor", "middle")
    .style("font-family", serif).style("font-size", "22px").attr("fill", "#111");
  t.append("tspan").attr("font-style", "italic").text("R");
  t.append("tspan").text(" (m)");
});

// y-axis labels
const teLab = svg.append("text").attr("transform", "translate(38,246) rotate(-90)")
  .attr("text-anchor", "middle").style("font-family", serif).style("font-size", "22px").attr("fill", "#111");
teLab.append("tspan").attr("font-style", "italic").text("T");
teLab.append("tspan").attr("font-style", "italic").attr("font-size", "15px").attr("baseline-shift", "sub").text("e");
teLab.append("tspan").text(" (eV)");

const nLab = svg.append("text").attr("transform", "translate(38,643) rotate(-90)")
  .attr("text-anchor", "middle").style("font-family", serif).style("font-size", "22px").attr("fill", "#111");
nLab.append("tspan").attr("font-style", "italic").text("n");
nLab.append("tspan").text(" (10");
nLab.append("tspan").attr("font-size", "14px").attr("baseline-shift", "super").text("19");
nLab.append("tspan").text("m");
nLab.append("tspan").attr("font-size", "14px").attr("baseline-shift", "super").text("\u22123");
nLab.append("tspan").text(")");

// legends
function legend(x, y, w, h, title, P, Ip, colors) {
  const g = svg.append("g");
  g.append("rect").attr("x", x).attr("y", y).attr("width", w).attr("height", h)
    .attr("fill", "#fff").attr("stroke", "#808080").attr("stroke-width", 1.4);
  g.append("text").attr("x", x + w / 2).attr("y", y + 23).attr("text-anchor", "middle")
    .style("font-family", "Lato, 'Open Sans', sans-serif").style("font-size", "20px")
    .attr("fill", "#111").text(title);
  P.forEach((pv, k) => {
    const ry = y + 44.5 + k * 23.1;
    g.append("line").attr("x1", x + 5).attr("x2", x + 37).attr("y1", ry).attr("y2", ry)
      .attr("stroke", colors[k]).attr("stroke-width", 2.4);
    const t = g.append("text").attr("x", x + 47.5).attr("y", ry + 5)
      .style("font-family", serif).style("font-size", "15px").attr("fill", "#222");
    t.append("tspan").text(`P=${pv.toFixed(1)}, I`);
    t.append("tspan").attr("font-size", "10px").attr("font-style", "italic")
      .attr("baseline-shift", "sub").text("p");
    t.append("tspan").text(`=${Ip[k].toFixed(1)}`);
  });
}
legend(568, 460, 172, 150, "forward", forwardP, forwardIp, forwardColors);
legend(837, 460, 163, 225, "reversed", reversedP, reversedIp, reversedColors);

// overall title
const title = svg.append("text").attr("x", 462).attr("y", 40)
  .style("font-family", "'Liberation Sans', Arial, sans-serif").style("font-size", "41px").attr("fill", "#000");
title.append("tspan").text("n");
title.append("tspan").attr("font-size", "28px").attr("baseline-shift", "sub").text("dl");
title.append("tspan").text("=4e19m");
title.append("tspan").attr("font-size", "28px").attr("baseline-shift", "super").text("-2");

// callouts
function callout(x, y, lines, color) {
  const t = svg.append("text").style("font-family", "'Liberation Sans', Arial, sans-serif")
    .style("font-size", "39px").style("font-weight", "bold").attr("fill", color);
  lines.forEach((s, k) => t.append("tspan").attr("x", x).attr("y", y + k * 44).text(s));
}
callout(222, 509, ["higher density in", "forward field"], "#00b0f0");
callout(762, 790, ["higher density in", "reversed field"], "#f0820a");
</script>
</body>
</html>
